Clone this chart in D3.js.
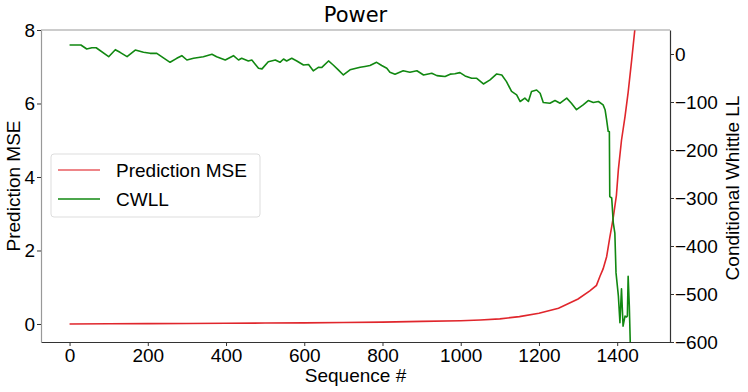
<!DOCTYPE html>
<html>
<head>
<meta charset="utf-8">
<script src="https://cdn.jsdelivr.net/npm/d3@7"></script>
<style>
	body {margin: 0; background: #fff;}
	svg {display: block;}
	.tick text {font-family: "Liberation Sans", Arial, sans-serif; font-size: 19px; fill: #000;}
	.label {font-family: "Liberation Sans", Arial, sans-serif; font-size: 19px; fill: #000;}
</style>
</head>
<body>
<div id="chart"></div>
<script>
//Sequence positions and prediction MSE (left axis)
var mseSeq = [0, 100, 200, 300, 400, 500, 600, 700, 800, 900, 1000, 1050, 1100, 1150, 1200, 1250, 1300,
	1330, 1347, 1356, 1364, 1373, 1381, 1386, 1390, 1394, 1398, 1403, 1411, 1420, 1428, 1437, 1445, 1462];
var mseValues = [0.0, 0.005, 0.01, 0.015, 0.02, 0.025, 0.03, 0.04, 0.05, 0.07, 0.09, 0.11, 0.14, 0.2, 0.29, 0.43, 0.68,
	0.9, 1.05, 1.3, 1.5, 1.83, 2.35, 2.65, 2.9, 3.2, 3.5, 4.2, 5.0, 5.64, 6.3, 7.18, 8.0, 9.6];

//Sequence positions and conditional whittle log likelihood (right axis)
var cwllSeq = [0, 29, 44, 57, 68, 100, 117, 129, 147, 168, 189, 206, 223, 257, 274, 287, 300, 317, 342, 364,
	376, 398, 419, 432, 440, 457, 466, 483, 492, 508, 526, 538, 547, 555, 568, 581, 598, 611, 623, 636,
	645, 662, 674, 687, 700, 717, 743, 755, 768, 785, 798, 811, 819, 832, 853, 870, 888, 905, 926, 939,
	950, 960, 973, 985, 998, 1011, 1028, 1041, 1058, 1075, 1092, 1105, 1117, 1130, 1143, 1152, 1164, 1173, 1181, 1194,
	1203, 1211, 1228, 1241, 1254, 1271, 1283, 1296, 1313, 1326, 1339, 1352, 1364, 1369, 1373, 1377, 1380, 1381, 1386, 1390,
	1394, 1397, 1403, 1407, 1411, 1415, 1420, 1424, 1426, 1428, 1431, 1434, 1440];
var cwllValues = [18.7, 18.7, 10.4, 13, 13, -5.6, 9, 3.5, -5.6, 8.3, 3.5, 1.4, 1.4, -17.3, -9, -3.5, -12.5, -9, -5.6, -0.7,
	-5.6, -12.5, -3.5, -12.5, -9, -14.5, -12.5, -29.8, -31, -16, -12.5, -17.3, -10.4, -14.5, -9, -14.5, -22.9, -22, -35, -27.7,
	-28, -14.5, -22.9, -33, -43.7, -33, -27.7, -26, -24, -17.3, -24, -29.8, -38, -42, -35, -38, -35, -43.7, -40, -45,
	-46, -47, -42, -41, -38.8, -45.7, -50.6, -50.6, -62.4, -54, -41.6, -43.7, -57.5, -78, -85, -99, -92, -99, -78, -75,
	-81.7, -101, -102.5, -97, -102.5, -92, -102.5, -116, -106, -97, -101, -99, -106, -116, -137, -161, -162, -297, -300, -352,
	-373, -456, -504, -560, -489, -567, -546, -548, -546, -463, -525, -620, -650];

var xTicks = [0, 200, 400, 600, 800, 1000, 1200, 1400];
var leftTicks = [0, 2, 4, 6, 8];
var rightTicks = [0, -100, -200, -300, -400, -500, -600];

var width = 748, height = 392;
var plot = {left: 41, right: 670, top: 30, bottom: 342};

var svg = d3.select('#chart').append('svg')
	.attr('width', width)
	.attr('height', height);

//Scales
var x = d3.scaleLinear().domain([-73, 1535]).range([plot.left, plot.right]);
var yLeft = d3.scaleLinear().domain([-0.49, 8]).range([plot.bottom, plot.top]);
var yRight = d3.scaleLinear().domain([-600, 50]).range([plot.bottom, plot.top]);

svg.append('clipPath').attr('id', 'plotClip')
	.append('rect')
	.attr('x', plot.left).attr('y', plot.top)
	.attr('width', plot.right - plot.left).attr('height', plot.bottom - plot.top);

//Lines
var mseLine = d3.line()
	.x(function(d){return x(d[0]);})
	.y(function(d){return yLeft(d[1]);});
var cwllLine = d3.line()
	.x(function(d){return x(d[0]);})
	.y(function(d){return yRight(d[1]);});

svg.append('path')
	.datum(d3.zip(mseSeq, mseValues))
	.attr('clip-path', 'url(#plotClip)')
	.attr('fill', 'none')
	.attr('stroke', '#e0262c')
	.attr('stroke-width', 1.6)
	.attr('d', mseLine);

svg.append('path')
	.datum(d3.zip(cwllSeq, cwllValues))
	.attr('clip-path', 'url(#plotClip)')
	.attr('fill', 'none')
	.attr('stroke', '#118811')
	.attr('stroke-width', 1.6)
	.attr('stroke-linejoin', 'round')
	.attr('d', cwllLine);

//Axes
var xAxis = svg.append('g')
	.attr('transform', 'translate(0,' + plot.bottom + ')')
	.call(d3.axisBottom(x).tickValues(xTicks).tickSize(4).tickSizeOuter(0).tickPadding(2.5)
		.tickFormat(d3.format('d')));
var leftAxis = svg.append('g')
	.attr('transform', 'translate(' + plot.left + ',0)')
	.call(d3.axisLeft(yLeft).tickValues(leftTicks).tickSize(4).tickSizeOuter(0).tickPadding(2));
var rightAxis = svg.append('g')
	.attr('transform', 'translate(' + plot.right + ',0)')
	.call(d3.axisRight(yRight).tickValues(rightTicks).tickSize(4).tickSizeOuter(0).tickPadding(1)
		.tickFormat(d3.format('d')));

[xAxis, leftAxis, rightAxis].forEach(function(a) {
	a.selectAll('.tick line').attr('stroke', '#333');
	a.select('.domain').attr('stroke', '#333').attr('stroke-width', 1.2);
});
leftAxis.select('.domain').attr('stroke', '#999');
xAxis.selectAll('.tick text').attr('dy', '0.72em');

//top spine
svg.append('line')
	.attr('x1', plot.left).attr('x2', plot.right)
	.attr('y1', plot.top).attr('y2', plot.top)
	.attr('stroke', '#999').attr('stroke-width', 1.2);

//Title and axis labels
svg.append('text')
	.attr('x', (plot.left + plot.right) / 2).attr('y', 22)
	.attr('text-anchor', 'middle')
	.style('font-family', '"DejaVu Sans", sans-serif')
	.style('font-size', '21px')
	.text('Power');

svg.append('text').attr('class', 'label')
	.attr('x', (plot.left + plot.right) / 2).attr('y', 382)
	.attr('text-anchor', 'middle')
	.text('Sequence #');

svg.append('text').attr('class', 'label')
	.attr('transform', 'translate(20,' + ((plot.top + plot.bottom) / 2) + ') rotate(-90)')
	.attr('text-anchor', 'middle')
	.text('Prediction MSE');

svg.append('text').attr('class', 'label')
	.attr('transform', 'translate(739,188) rotate(-90)')
	.attr('text-anchor', 'middle')
	.text('Conditional Whittle LL');

//Legend
var legend = svg.append('g');
legend.append('rect')
	.attr('x', 51).attr('y', 154)
	.attr('width', 209).attr('height', 63)
	.attr('rx', 3)
	.attr('fill', '#fff').attr('fill-opacity', 0.8)
	.attr('stroke', '#ddd');
var legendItems = [
	{name: 'Prediction MSE', color: '#e0262c', opacity: 0.75},
	{name: 'CWLL', color: '#118811', opacity: 1}
];
legendItems.forEach(function(item, i) {
	var yPos = 170 + i * 29;
	legend.append('line')
		.attr('x1', 58).attr('x2', 100)
		.attr('y1', yPos).attr('y2', yPos)
		.attr('stroke', item.color)
		.attr('stroke-opacity', item.opacity)
		.attr('stroke-width', 1.6);
	legend.append('text').attr('class', 'label')
		.attr('x', 116).attr('y', yPos + 7)
		.text(item.name);
});
</script>
</body>
</html>
